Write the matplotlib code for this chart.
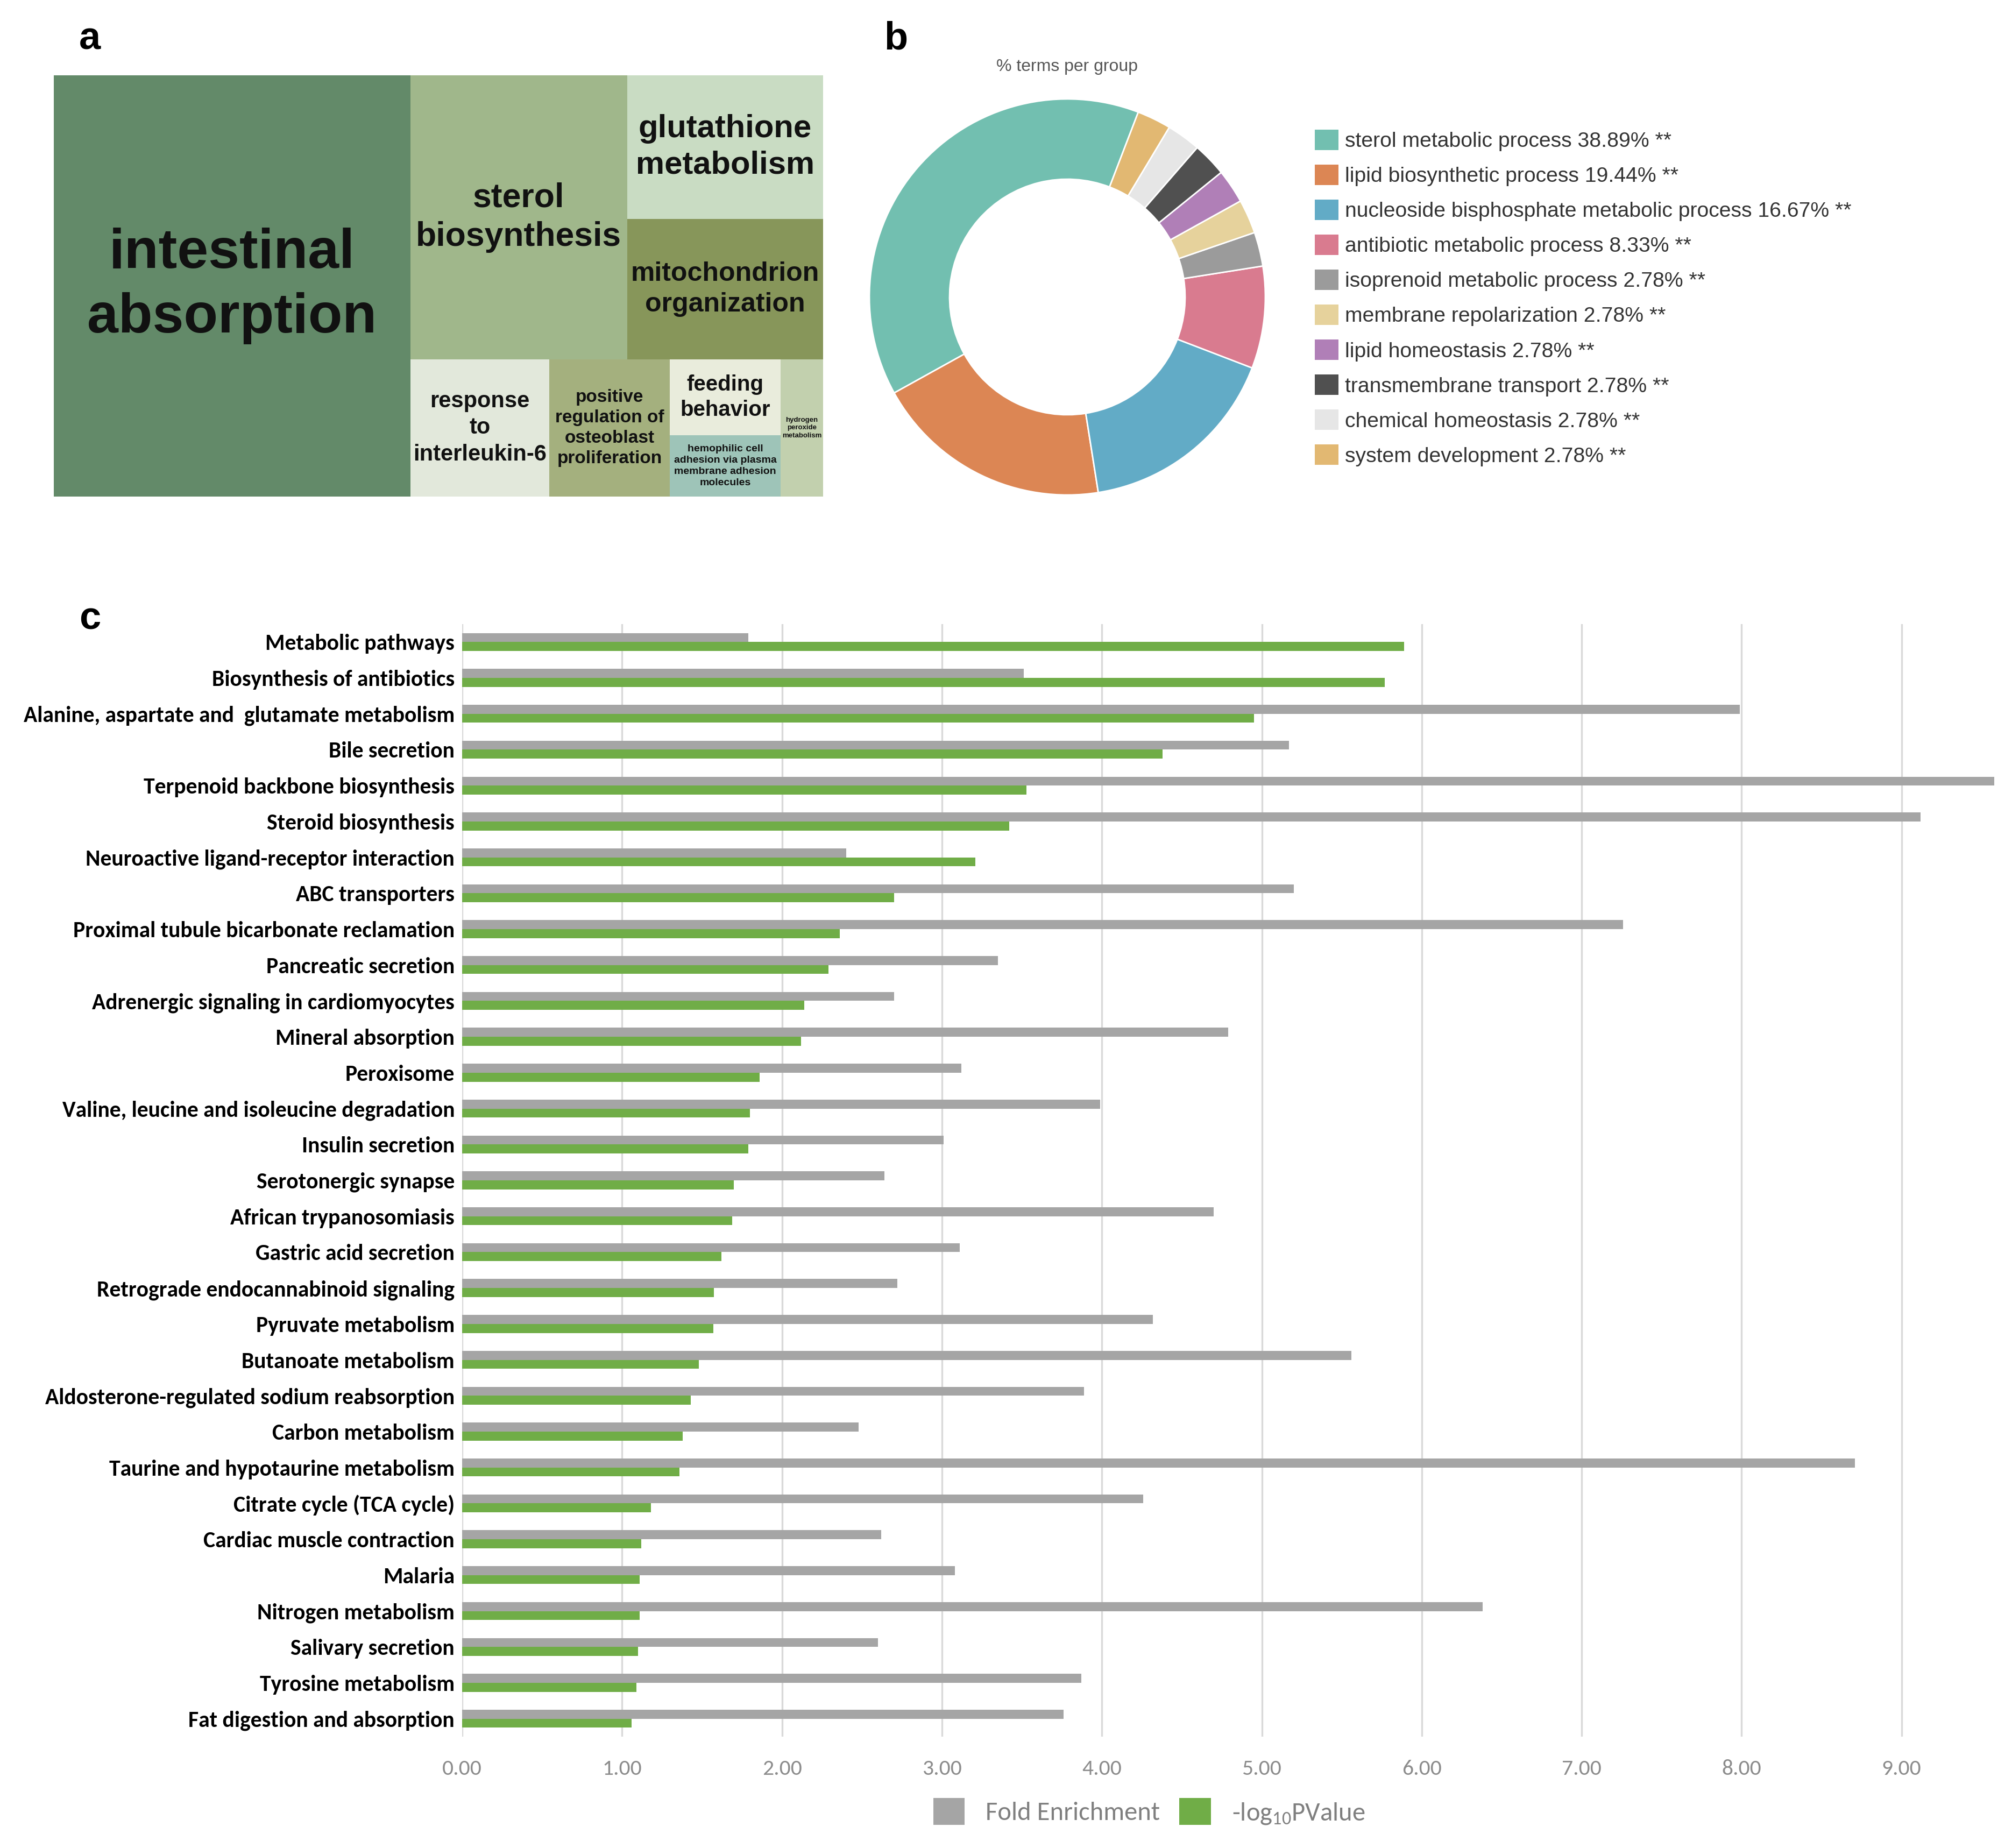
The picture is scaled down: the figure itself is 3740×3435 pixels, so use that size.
import matplotlib
matplotlib.use('Agg')
import matplotlib.pyplot as plt
from matplotlib import font_manager as fm
from matplotlib.patches import Rectangle, Patch

# pick fonts that are installed
available = {f.name for f in fm.fontManager.ttflist}


def pick(*names):
    for n in names:
        if n in available:
            return n
    return 'DejaVu Sans'


sans = pick('Liberation Sans', 'Arial')
narrow = pick('Liberation Sans Narrow', 'Liberation Sans')
calib = pick('Carlito', 'Lato')
is_carlito = calib == 'Carlito'

plt.rcParams['mathtext.fontset'] = 'custom'
plt.rcParams['mathtext.rm'] = calib
plt.rcParams['mathtext.it'] = calib

# ---------------- data ----------------
# (a) REVIGO treemap
tm_terms = ['intestinal\nabsorption', 'sterol\nbiosynthesis', 'glutathione\nmetabolism',
            'mitochondrion\norganization', 'response\nto\ninterleukin-6',
            'positive\nregulation of\nosteoblast\nproliferation', 'feeding\nbehavior',
            'hemophilic cell\nadhesion via plasma\nmembrane adhesion\nmolecules',
            'hydrogen\nperoxide\nmetabolism']
tm_sizes = [46.4, 19.0, 8.7, 8.5, 5.9, 5.1, 2.6, 2.1, 1.8]
# nesting of the cells: ('h'|'v', children)
tm_tree = ('h', [0, ('v', [('h', [1, ('v', [2, 3])]),
                           ('h', [4, 5, ('v', [6, 7]), 8])])])

# (b) ClueGO groups
go_groups = ['sterol metabolic process', 'lipid biosynthetic process',
             'nucleoside bisphosphate metabolic process', 'antibiotic metabolic process',
             'isoprenoid metabolic process', 'membrane repolarization', 'lipid homeostasis',
             'transmembrane transport', 'chemical homeostasis', 'system development']
go_terms = [14, 7, 6, 3, 1, 1, 1, 1, 1, 1]

# (c) KEGG pathways
pathways = ['Metabolic pathways', 'Biosynthesis of antibiotics',
            'Alanine, aspartate and  glutamate metabolism', 'Bile secretion',
            'Terpenoid backbone biosynthesis', 'Steroid biosynthesis',
            'Neuroactive ligand-receptor interaction', 'ABC transporters',
            'Proximal tubule bicarbonate reclamation', 'Pancreatic secretion',
            'Adrenergic signaling in cardiomyocytes', 'Mineral absorption', 'Peroxisome',
            'Valine, leucine and isoleucine degradation', 'Insulin secretion',
            'Serotonergic synapse', 'African trypanosomiasis', 'Gastric acid secretion',
            'Retrograde endocannabinoid signaling', 'Pyruvate metabolism',
            'Butanoate metabolism', 'Aldosterone-regulated sodium reabsorption',
            'Carbon metabolism', 'Taurine and hypotaurine metabolism',
            'Citrate cycle (TCA cycle)', 'Cardiac muscle contraction', 'Malaria',
            'Nitrogen metabolism', 'Salivary secretion', 'Tyrosine metabolism',
            'Fat digestion and absorption']
fold_enrichment = [1.79, 3.51, 7.99, 5.17, 9.58, 9.12, 2.40, 5.20, 7.26, 3.35, 2.70, 4.79,
                   3.12, 3.99, 3.01, 2.64, 4.70, 3.11, 2.72, 4.32, 5.56, 3.89, 2.48, 8.71,
                   4.26, 2.62, 3.08, 6.38, 2.60, 3.87, 3.76]
neg_log_p = [5.89, 5.77, 4.95, 4.38, 3.53, 3.42, 3.21, 2.70, 2.36, 2.29, 2.14, 2.12, 1.86,
             1.80, 1.79, 1.70, 1.69, 1.62, 1.575, 1.57, 1.48, 1.43, 1.38, 1.36, 1.18, 1.12,
             1.11, 1.11, 1.10, 1.09, 1.06]

# ---------------- figure ----------------
W, H = 3740, 3435
fig = plt.figure(figsize=(W / 100, H / 100), dpi=100)


def box(x0, y0, x1, y1):
    # pixel box (top-left origin) -> figure fraction rect
    return [x0 / W, 1 - y1 / H, (x1 - x0) / W, (y1 - y0) / H]


# ---- (a) treemap ----
tm_colors = ['#638a69', '#a0b78b', '#c9dcc3', '#87965a', '#e2e8db', '#a4b07e',
             '#e9ecdc', '#9ec4b8', '#c2d0ae']
tm_fontsizes = [75, 45, 43, 36, 30, 24, 29, 14, 9.5]


def total(node):
    if isinstance(node, int):
        return tm_sizes[node]
    return sum(total(c) for c in node[1])


def layout(node, x, y, w, h, out):
    if isinstance(node, int):
        out[node] = (x, y, w, h)
        return
    direction, children = node
    s = total(node)
    for c in children:
        f = total(c) / s
        if direction == 'h':
            layout(c, x, y, w * f, h, out)
            x += w * f
        else:
            layout(c, x, y, w, h * f, out)
            y += h * f


cells = {}
layout(tm_tree, 0, 0, 1, 1, cells)

ax_a = fig.add_axes(box(100, 140, 1530, 923))
ax_a.set_xlim(0, 1)
ax_a.set_ylim(1, 0)
ax_a.set_axis_off()
for i, term in enumerate(tm_terms):
    x, y, w, h = cells[i]
    ax_a.add_patch(Rectangle((x, y), w, h, facecolor=tm_colors[i], edgecolor='none'))
    ax_a.text(x + w / 2, y + h / 2, term, ha='center', va='center', family=sans,
              weight='bold', fontsize=tm_fontsizes[i], color='#111111', linespacing=1.3)

# ---- (b) donut ----
go_colors = ['#72bfb0', '#dc8654', '#62abc6', '#d97b8f', '#9b9b9b', '#e6d29c',
             '#b07fb7', '#505050', '#e6e6e6', '#e2b872']
ax_b = fig.add_axes(box(1984 - 368, 552 - 368, 1984 + 368, 552 + 368))
ax_b.pie(go_terms, colors=go_colors, startangle=69, counterclock=True,
         wedgeprops=dict(width=0.405, edgecolor='white', linewidth=2))
ax_b.set_xlim(-1, 1)
ax_b.set_ylim(-1, 1)
fig.text(1983 / W, 1 - 124 / H, '% terms per group', ha='center', va='center',
         family=sans, fontsize=23, color='#555555')

n_terms = sum(go_terms)
go_labels = [f'{g} {100 * c / n_terms:.2f}% **' for g, c in zip(go_groups, go_terms)]
leg_fs = 34 if narrow == 'Liberation Sans Narrow' else 28.2
fig.legend([Patch(facecolor=c, edgecolor='none') for c in go_colors], go_labels,
           loc='upper left', bbox_to_anchor=(2444 / W, 1 - 241 / H), frameon=False,
           prop=dict(family=narrow, size=leg_fs), labelcolor='#333333',
           handlelength=1.12, handleheight=1.12, handletextpad=0.3,
           labelspacing=0.63, borderpad=0, borderaxespad=0)

# ---- (c) bars ----
ax_c = fig.add_axes(box(859, 1160, 3730, 3228))
pos = list(range(len(pathways)))
bh = 0.25
ax_c.barh([p - bh / 2 for p in pos], fold_enrichment, height=bh, color='#a5a5a5',
          label='Fold Enrichment')
ax_c.barh([p + bh / 2 for p in pos], neg_log_p, height=bh, color='#70ad47',
          label='-log$_{10}$PValue')
ax_c.set_ylim(len(pathways) - 0.5, -0.5)
ax_c.set_xlim(0, (3730 - 859) / 297.3)
ax_c.set_xticks(range(10))
ax_c.set_xticklabels([f'{v:.2f}' for v in range(10)])
ax_c.set_yticks(pos)
lab_fs = 30 if is_carlito else 25
ax_c.set_yticklabels(pathways, family=calib, weight='bold', fontsize=lab_fs)
ax_c.tick_params(axis='x', length=0, pad=30, labelcolor='#8c8c8c',
                 labelsize=30 if is_carlito else 26)
for t in ax_c.get_xticklabels():
    t.set_family(calib)
ax_c.tick_params(axis='y', length=0, pad=10)
for s in ax_c.spines.values():
    s.set_visible(False)
ax_c.xaxis.grid(True, color='#d9d9d9', linewidth=2.4)
ax_c.set_axisbelow(True)
fig.legend(*ax_c.get_legend_handles_labels(), ncol=2, loc='center',
           bbox_to_anchor=(2136 / W, 1 - 3368 / H), frameon=False,
           prop=dict(family=calib, size=35 if is_carlito else 30), labelcolor='#7f7f7f',
           handlelength=1.2, handleheight=1.2, handletextpad=0.8, columnspacing=0.75)

# panel letters
for letter, px, py in [('a', 167, 92), ('b', 1665, 91), ('c', 167, 1169)]:
    fig.text(px / W, 1 - py / H, letter, ha='center', va='baseline', family=sans,
             weight='bold', fontsize=52)

fig.savefig('out.png', dpi=100)
